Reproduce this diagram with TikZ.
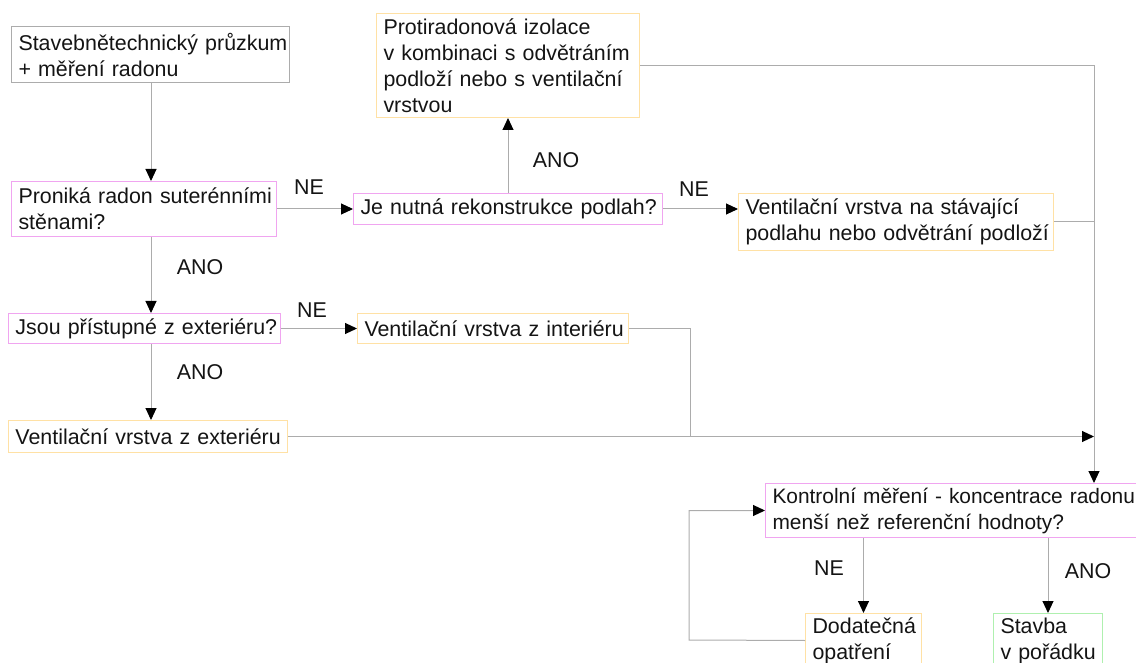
\documentclass[tikz,border=0pt]{standalone}
\usepackage{fontspec}
\setmainfont{Liberation Sans}
\usetikzlibrary{arrows.meta,calc}
\definecolor{lgray}{RGB}{172,172,172}
\definecolor{pinkb}{RGB}{240,165,240}
\definecolor{orangeb}{RGB}{255,225,165}
\definecolor{greenb}{RGB}{175,240,175}
\definecolor{txt}{RGB}{20,20,20}
\hyphenpenalty=10000
\exhyphenpenalty=10000
\begin{document}
\begin{tikzpicture}[x=1pt,y=-1pt,
  font=\fontsize{21.4}{26}\selectfont,
  box/.style={draw=#1, line width=1pt, anchor=north west, align=left,
              inner xsep=7pt, inner ysep=1pt, text=txt},
  conn/.style={draw=lgray, line width=1pt},
  arr/.style={conn, -{Triangle[length=12pt,width=11pt,black]}},
  lbl/.style={text=txt, inner sep=0pt}]
\useasboundingbox (0,0) rectangle (1136,663);

% boxes
\node[box=lgray, text width=264pt, minimum height=56pt] (b1) at (11,26)
  {\mbox{Stavebnětechnický průzkum}\\\mbox{+ měření radonu}};
\node[box=pinkb, text width=251pt, minimum height=55pt] (p1) at (11,181)
  {\mbox{Proniká radon suterénními}\\\mbox{stěnami?}};
\node[box=pinkb, text width=295pt, minimum height=31pt] (jn) at (353,193)
  {\mbox{Je nutná rekonstrukce podlah?}};
\node[box=orangeb, text width=249pt, minimum height=104pt] (pr) at (376,13)
  {\mbox{Protiradonová izolace}\\\mbox{v kombinaci s odvětráním}\\\mbox{podloží nebo s ventilační}\\\mbox{vrstvou}};
\node[box=orangeb, text width=301pt, minimum height=57pt] (vs) at (738,193)
  {\mbox{Ventilační vrstva na stávající}\\\mbox{podlahu nebo odvětrání podloží}};
\node[box=pinkb, text width=258pt, minimum height=30pt] (js) at (8,313)
  {\mbox{Jsou přístupné z exteriéru?}};
\node[box=orangeb, text width=257pt, minimum height=30pt] (vi) at (357,313)
  {\mbox{Ventilační vrstva z interiéru}};
\node[box=orangeb, text width=265pt, minimum height=32pt] (ve) at (8,420)
  {\mbox{Ventilační vrstva z exteriéru}};
\node[box=pinkb, text width=390pt, minimum height=54pt, font=\fontsize{20.9}{26}\selectfont] (ko) at (765,483)
  {\mbox{Kontrolní měření - koncentrace radonu}\\\mbox{menší než referenční hodnoty?}};
\node[box=orangeb, text width=102pt, minimum height=54pt] (dod) at (805,613)
  {\mbox{Dodatečná}\\\mbox{opatření}};
\node[box=greenb, text width=95pt, minimum height=54pt] (st) at (993,613)
  {\mbox{Stavba}\\\mbox{v pořádku}};

% helper coordinates
\coordinate (spine) at (151,0);
\coordinate (bus) at (1094,0);
\coordinate (join) at (690,0);
\coordinate (loop) at (689,640);

% connectors
\draw[arr] (spine |- b1.south) -- (spine |- p1.north);
\draw[arr] (p1.east) -- (p1.east -| jn.west);
\draw[arr] (jn.north) -- (jn.north |- pr.south);
\draw[arr] (jn.east) -- (jn.east -| vs.west);
\draw[arr] (pr.east) -| (bus |- ko.north);
\draw[conn] (vs.east) -- (vs.east -| bus);
\draw[arr] (spine |- p1.south) -- (spine |- js.north);
\draw[arr] (js.east) -- (js.east -| vi.west);
\draw[arr] (spine |- js.south) -- (spine |- ve.north);
\draw[conn] (vi.east) -| (join |- ve.east);
\draw[arr] (ve.east) -- (ve.east -| bus);
\draw[arr] (dod.north |- ko.south) -- (dod.north);
\draw[arr] (st.north |- ko.south) -- (st.north);
\draw[arr] (dod.west) -- (loop) |- (ko.west);

% labels
\node[lbl] (l1) at (309,187) {NE};
\node[lbl] (l2) at (556,160) {ANO};
\node[lbl] (l3) at (694,189) {NE};
\node[lbl] (l4) at (200,267) {ANO};
\node[lbl] (l5) at (312,310) {NE};
\node[lbl] (l6) at (200,372) {ANO};
\node[lbl] (l7) at (829,568) {NE};
\node[lbl] (l8) at (1088,571) {ANO};
\end{tikzpicture}
\end{document}
